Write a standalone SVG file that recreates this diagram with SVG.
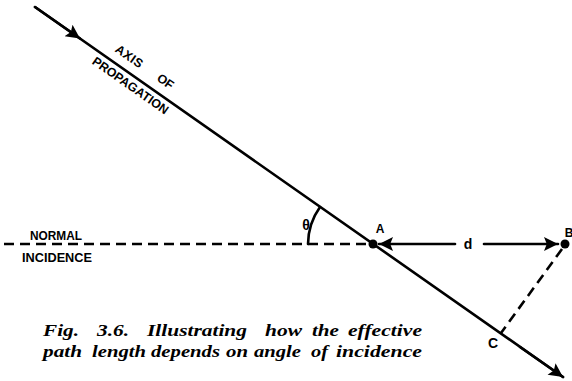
<svg xmlns="http://www.w3.org/2000/svg" width="572" height="381" viewBox="0 0 572 381">
<defs>
<marker id="ahBig" viewBox="0 0 10 10" refX="10" refY="5" markerWidth="16" markerHeight="14" markerUnits="userSpaceOnUse" orient="auto">
<path d="M0,0 L10,5 L0,10 L2,5 Z" fill="#000"/>
</marker>
</defs>
<style>
.ln{stroke:#000;stroke-width:2.6;fill:none;stroke-linecap:round}
.dash{stroke:#000;stroke-width:2.6;fill:none;stroke-dasharray:10 6}
.lbl{font-family:"Liberation Sans",Arial,sans-serif;font-weight:bold;fill:#000}
.cap{font-family:"Liberation Serif","Times New Roman",serif;font-style:italic;font-weight:bold;font-size:17.5px;fill:#000}
</style>
<rect width="572" height="381" fill="#fff"/>
<g id="connectors">
<line class="ln" x1="35" y1="7" x2="563" y2="377"/>
<line class="ln" x1="35" y1="7" x2="80" y2="38.5" marker-end="url(#ahBig)"/>
<line class="ln" x1="520" y1="347" x2="563" y2="377" marker-end="url(#ahBig)"/>
<line class="dash" x1="4" y1="244" x2="368" y2="244"/>
<line class="ln" x1="455" y1="244" x2="379" y2="244" marker-end="url(#ahBig)"/>
<line class="ln" x1="484" y1="244" x2="558" y2="244" marker-end="url(#ahBig)"/>
<line class="dash" x1="562" y1="249" x2="501" y2="333"/>
<path class="ln" d="M320,207 A65,65 0 0 0 308,244" stroke-width="2"/>
</g>
<g id="A">
<circle cx="373" cy="244" r="4.5" fill="#000"/>
<text class="lbl" x="380" y="233" font-size="12" text-anchor="middle">A</text>
</g>
<g id="B">
<circle cx="565" cy="244" r="4.5" fill="#000"/>
<text class="lbl" x="569" y="237" font-size="12" text-anchor="middle">B</text>
</g>
<g id="C">
<text class="lbl" x="493" y="348" font-size="14" text-anchor="middle">C</text>
</g>
<g id="d-label">
<text class="lbl" x="468" y="249" font-size="14" text-anchor="middle">d</text>
</g>
<g id="theta">
<text class="lbl" x="306" y="230" font-size="14" text-anchor="middle">θ</text>
</g>
<g id="axis-label">
<text class="lbl" font-size="12.5" transform="translate(127,60) rotate(35)" text-anchor="middle" letter-spacing="0.5">AXIS</text>
<text class="lbl" font-size="12.5" transform="translate(163,85) rotate(35)" text-anchor="middle">OF</text>
<text class="lbl" font-size="12.5" transform="translate(128,89) rotate(35)" text-anchor="middle" textLength="90" lengthAdjust="spacingAndGlyphs">PROPAGATION</text>
</g>
<g id="normal-label">
<text class="lbl" x="56" y="240" font-size="12" text-anchor="middle" textLength="52" lengthAdjust="spacingAndGlyphs">NORMAL</text>
<text class="lbl" x="57" y="262" font-size="12" text-anchor="middle" textLength="70" lengthAdjust="spacingAndGlyphs">INCIDENCE</text>
</g>
<g id="caption">
<text class="cap" x="43" y="336" textLength="36" lengthAdjust="spacingAndGlyphs">Fig.</text>
<text class="cap" x="97" y="336" textLength="32" lengthAdjust="spacingAndGlyphs">3.6.</text>
<text class="cap" x="147" y="336" textLength="100" lengthAdjust="spacingAndGlyphs">Illustrating</text>
<text class="cap" x="265" y="336" textLength="37" lengthAdjust="spacingAndGlyphs">how</text>
<text class="cap" x="312" y="336" textLength="27" lengthAdjust="spacingAndGlyphs">the</text>
<text class="cap" x="348" y="336" textLength="74" lengthAdjust="spacingAndGlyphs">effective</text>
<text class="cap" x="43" y="357" textLength="39" lengthAdjust="spacingAndGlyphs">path</text>
<text class="cap" x="92" y="357" textLength="54" lengthAdjust="spacingAndGlyphs">length</text>
<text class="cap" x="151" y="357" textLength="69" lengthAdjust="spacingAndGlyphs">depends</text>
<text class="cap" x="226" y="357" textLength="22" lengthAdjust="spacingAndGlyphs">on</text>
<text class="cap" x="254" y="357" textLength="47" lengthAdjust="spacingAndGlyphs">angle</text>
<text class="cap" x="311" y="357" textLength="17" lengthAdjust="spacingAndGlyphs">of</text>
<text class="cap" x="336" y="357" textLength="86" lengthAdjust="spacingAndGlyphs">incidence</text>
</g>
</svg>
